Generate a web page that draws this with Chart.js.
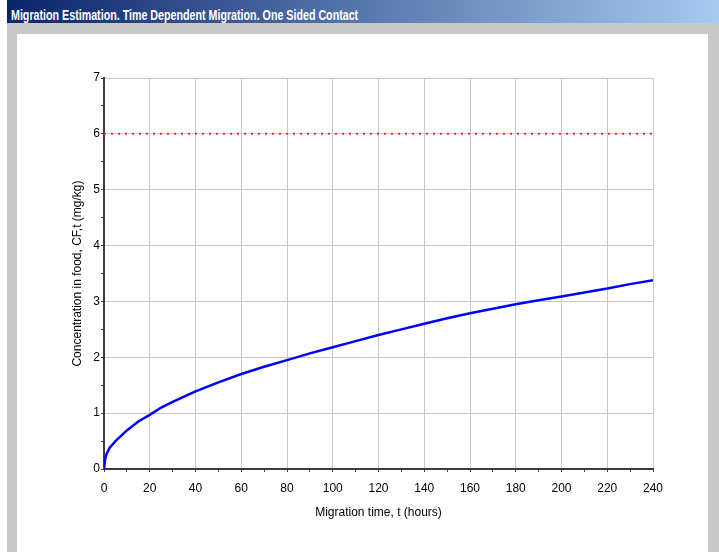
<!DOCTYPE html>
<html>
<head>
<meta charset="utf-8">
<script src="https://cdn.jsdelivr.net/npm/chart.js@4/dist/chart.umd.min.js"></script>
<style>
  html, body { margin: 0; padding: 0; background: #fff; width: 719px; height: 552px; overflow: hidden; }
  #win { position: absolute; left: 7px; top: 0; width: 712px; height: 552px; background: #c8c8c8; }
  #bar { position: absolute; left: 0; top: 0; width: 712px; height: 23px; background: linear-gradient(to right, #0a246a, #a6caf0); }
  #cap { position: absolute; left: 4px; top: 7px; font: bold 15px/15px "Liberation Sans", Arial, sans-serif; color: #fff; white-space: nowrap; transform-origin: 0 0; }
  #panel { position: absolute; left: 10px; top: 34px; width: 691px; height: 518px; background: #fff; }
</style>
</head>
<body>
<div id="win">
  <div id="bar"><span id="cap">Migration Estimation. Time Dependent Migration. One Sided Contact</span></div>
  <div id="panel"><canvas id="chart" width="691" height="518"></canvas></div>
</div>
<script>
// caption is a narrow bold font in the original, squeeze it to the same width
var cap = document.getElementById('cap');
cap.style.transform = 'scaleX(' + (347 / cap.offsetWidth) + ')';

// values
var timeHours = [0, 0.5, 1.2, 2.5, 5, 10, 15, 20, 25, 30, 40, 50, 60, 70, 80, 90, 100, 110, 120, 130, 140, 150, 160, 170, 180, 190, 200, 210, 220, 230, 240];
var concentration = [0, 0.18, 0.28, 0.38, 0.5, 0.69, 0.85, 0.97, 1.1, 1.2, 1.39, 1.55, 1.7, 1.83, 1.95, 2.07, 2.18, 2.29, 2.4, 2.5, 2.6, 2.7, 2.79, 2.87, 2.95, 3.02, 3.09, 3.16, 3.23, 3.31, 3.38];
var limitValue = 6;
var xRange = [0, 240];
var yRange = [0, 7];

Chart.defaults.font.family = "'Liberation Sans', Arial, sans-serif";
Chart.defaults.font.size = 12;
Chart.defaults.color = '#000';

var curve = timeHours.map(function(t, i){ return {x: t, y: concentration[i]}; });
var limit = xRange.map(function(t){ return {x: t, y: limitValue}; });

var ctx = document.getElementById('chart').getContext('2d');
var chart = new Chart(ctx, {
  type: 'line',
  data: {
    datasets: [
      {
        data: limit,
        borderColor: '#ff2a2a',
        borderWidth: 2,
        borderDash: [2, 5],
        pointRadius: 0,
        fill: false
      },
      {
        data: curve,
        borderColor: '#0000ff',
        borderWidth: 2.5,
        pointRadius: 0,
        fill: false
      }
    ]
  },
  options: {
    responsive: false,
    animation: false,
    layout: { padding: { left: 50, top: 44, right: 55, bottom: 32 } },
    plugins: { legend: { display: false }, tooltip: { enabled: false } },
    scales: {
      x: {
        type: 'linear',
        min: xRange[0],
        max: xRange[1],
        afterFit: function(scale){ scale.height = 51; },
        ticks: {
          stepSize: 10,
          autoSkip: false,
          maxRotation: 0,
          padding: 9,
          callback: function(v){ return v % 20 === 0 ? v : ''; }
        },
        grid: {
          color: function(c){ return c.tick && c.tick.value % 20 === 0 ? '#c8c8c8' : 'rgba(0,0,0,0)'; },
          tickColor: '#3c3c3c',
          tickLength: 3,
          lineWidth: 1
        },
        border: { color: '#3c3c3c', width: 2 },
        title: { display: true, text: 'Migration time, t (hours)', padding: { top: 4, bottom: 0 } }
      },
      y: {
        type: 'linear',
        min: yRange[0],
        max: yRange[1],
        afterFit: function(scale){ scale.width = 37; },
        ticks: {
          stepSize: 0.5,
          autoSkip: false,
          padding: 1,
          callback: function(v){ return v % 1 === 0 ? v : ''; }
        },
        grid: {
          color: function(c){ return c.tick && c.tick.value % 1 === 0 ? '#c8c8c8' : 'rgba(0,0,0,0)'; },
          tickColor: '#3c3c3c',
          tickLength: 3,
          lineWidth: 1
        },
        border: { color: '#3c3c3c', width: 2 },
        title: { display: true, text: 'Concentration in food, CF,t (mg/kg)', padding: 3 }
      }
    }
  }
});
</script>
</body>
</html>
